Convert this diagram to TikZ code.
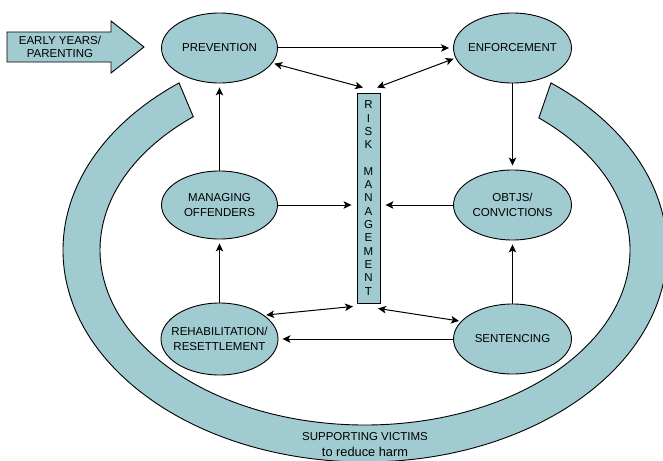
\documentclass[tikz,border=0pt]{standalone}
\usepackage{fontspec}
\setmainfont{Liberation Sans}
\usetikzlibrary{shapes.geometric,arrows.meta,calc}
\definecolor{teal}{RGB}{160,203,208}
\tikzset{
  stage/.style={ellipse, draw=black, line width=0.9pt, fill=teal,
    inner xsep=-30pt, inner ysep=-8pt,
    align=center, font=\fontsize{11.5}{15}\selectfont},
  link/.style={line width=1pt, -{Stealth[length=8pt,width=7.5pt,inset=2pt]}, shorten >=4pt},
  twoway/.style={line width=1pt, {Stealth[length=8pt,width=7.5pt,inset=2pt]}-{Stealth[length=8pt,width=7.5pt,inset=2pt]}},
  bandfill/.style={draw=black, line width=0.9pt, fill=teal}
}
\begin{document}
\begin{tikzpicture}[x=1pt,y=-1pt]
\useasboundingbox (0,0) rectangle (663,460);
\clip (0,0) rectangle (663,460);

% outer band: supporting victims
\coordinate (c) at (365,250);
\draw[bandfill] ($(c)+(232:302 and 212)$)
  arc[start angle=232, end angle=-52, x radius=302, y radius=212]
  -- ($(c)+(-49:265 and 175)$)
  arc[start angle=-49, end angle=229.6, x radius=265, y radius=175]
  -- cycle;
\node[align=center, font=\fontsize{11.5}{16}\selectfont] (victims) at (365,445)
  {SUPPORTING VICTIMS\\{\fontsize{12.8}{16}\selectfont to reduce harm}};

% early years input arrow
\draw[bandfill] (7,32) -- (111,32) -- (111,21) -- (144,47) -- (111,73) -- (111,62) -- (7,62) -- cycle;
\node[align=center, font=\fontsize{11.5}{13}\selectfont] (early) at (60,47)
  {EARLY YEARS/\\PARENTING};

% stages
\node[stage, minimum width=116pt, minimum height=70pt] (prev) at (219.5,48) {PREVENTION};
\node[stage, minimum width=118pt, minimum height=70pt] (enf) at (512.5,48) {ENFORCEMENT};
\node[stage, minimum width=116pt, minimum height=68pt] (man) at (219.5,205) {MANAGING\\OFFENDERS};
\node[stage, minimum width=118pt, minimum height=70pt] (obt) at (512.5,205) {OBTJS/\\CONVICTIONS};
\node[stage, minimum width=117pt, minimum height=72pt] (reh) at (219.5,339) {REHABILITATION/\\RESETTLEMENT};
\node[stage, minimum width=118pt, minimum height=70pt] (sen) at (512.5,339) {SENTENCING};

% risk management column
\node[draw=black, line width=0.9pt, fill=teal, minimum width=23pt, minimum height=210pt,
  inner sep=0pt, align=center, font=\fontsize{11.5}{13.3}\selectfont] (risk) at (368.5,198)
  {R\\I\\S\\K\\\mbox{}\\M\\A\\N\\A\\G\\E\\M\\E\\N\\T};

% flows between stages
\draw[link] (prev.east) -- (enf.west);
\draw[link] (enf.south) -- (obt.north);
\draw[link] (sen.north) -- (obt.south);
\draw[link] (man.north) -- (prev.south);
\draw[link] (reh.north) -- (man.south);
\draw[link] (sen.west) -- (reh.east);
\draw[link, shorten >=5pt] (man.east) -- (man.east -| risk.west);
\draw[link, shorten >=5pt] (obt.west) -- (obt.west -| risk.east);

% two-way links with risk management
\draw[twoway, shorten <=2pt] (prev.-16) -- ([xshift=-5.5pt,yshift=5pt]risk.north);
\draw[twoway, shorten >=2pt] ([xshift=8.5pt,yshift=5pt]risk.north) -- (enf.190);
\draw[twoway, shorten <=2pt] (reh.28) -- ([xshift=-15.5pt,yshift=-3pt]risk.south);
\draw[twoway, shorten >=2pt] ([xshift=9.5pt,yshift=-5pt]risk.south) -- (sen.161);
\end{tikzpicture}
\end{document}
